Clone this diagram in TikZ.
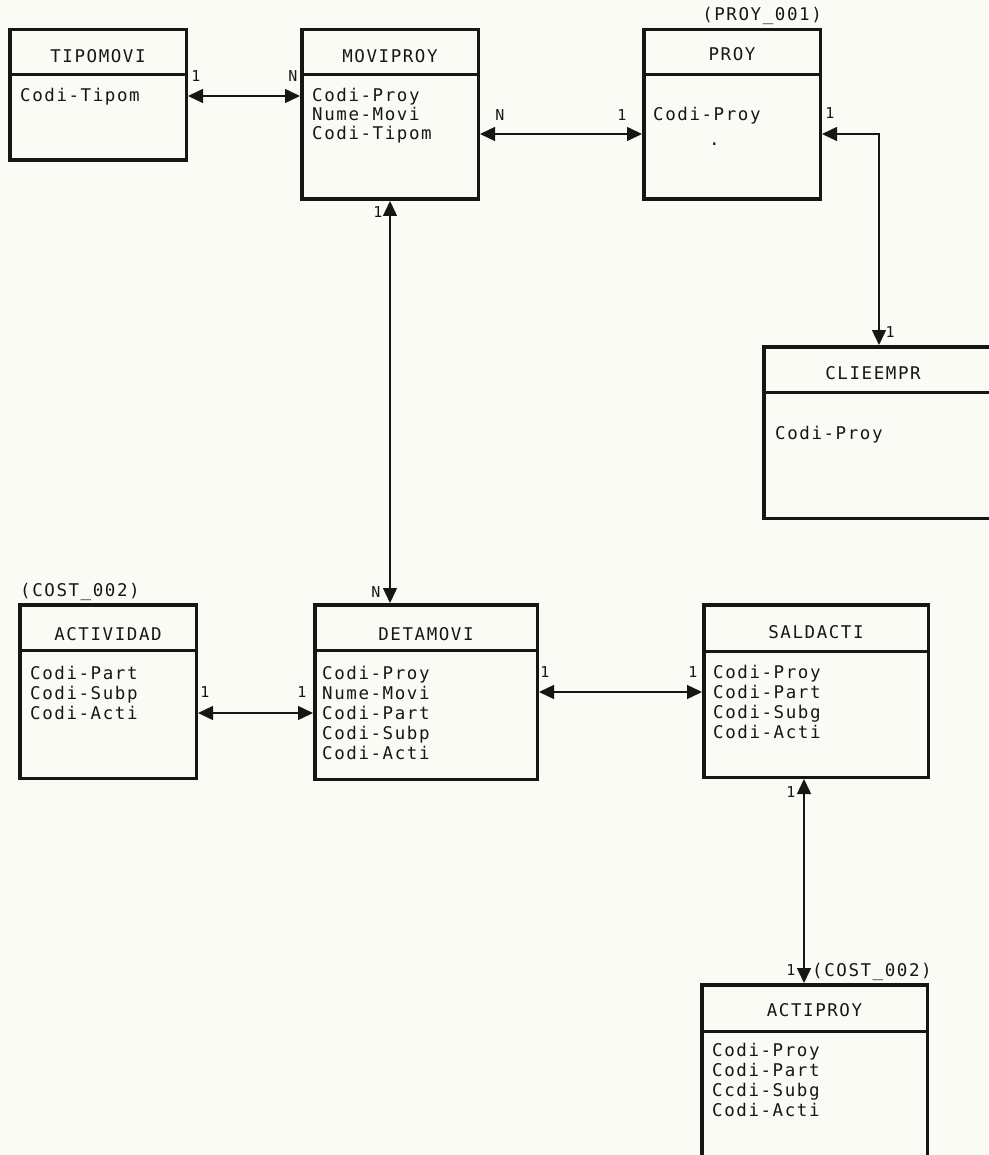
\documentclass[tikz,border=0pt]{standalone}
\usepackage{fontspec}
\newfontfamily\dmono[LetterSpace=9]{DejaVu Sans Mono}
\usetikzlibrary{arrows.meta}
\definecolor{paper}{RGB}{251,251,246}
\definecolor{ink}{RGB}{22,22,22}
\tikzset{
  entbox/.style={draw=ink, line width=3.5pt, inner sep=0pt, anchor=north west},
  hdr/.style={draw=ink, line width=3pt},
  ttl/.style={text=ink, inner sep=0pt, anchor=base, font=\dmono\fontsize{17.5}{20}\selectfont},
  fld/.style={text=ink, inner sep=0pt, anchor=base west, font=\dmono\fontsize{17.5}{20}\selectfont},
  card/.style={text=ink, inner sep=0pt, font=\dmono\fontsize{15}{17}\selectfont},
  rel/.style={draw=ink, line width=1.4pt, {Triangle[length=15pt,width=14pt]}-{Triangle[length=15pt,width=14pt]}},
}
\newcommand\entfields[5]{%
  \foreach \t [count=\i] in {#5} {\node[fld] (#1-f\i) at (#2,{#3+(\i-1)*#4}) {\t};}}
\begin{document}
\begin{tikzpicture}[x=1pt,y=-1pt]
\fill[paper] (0,0) rectangle (988,1155);
\useasboundingbox (0,0) rectangle (988,1155);

% TIPOMOVI
\node[entbox, minimum width=176.5pt, minimum height=130.5pt] (tipomovi) at (8,28) {};
\draw[hdr] (tipomovi.west |- 0,75) -- (tipomovi.east |- 0,75);
\node[ttl] (tipomovi-t) at (tipomovi.north |- 0,63) {TIPOMOVI};
\entfields{tipomovi}{20}{102}{19}{Codi-Tipom}

% MOVIPROY
\node[entbox, minimum width=176.5pt, minimum height=169.5pt] (moviproy) at (300,28) {};
\draw[hdr] (moviproy.west |- 0,75) -- (moviproy.east |- 0,75);
\node[ttl] (moviproy-t) at (moviproy.north |- 0,63) {MOVIPROY};
\entfields{moviproy}{312}{102}{19}{Codi-Proy,Nume-Movi,Codi-Tipom}

% PROY
\node[entbox, minimum width=176.5pt, minimum height=169.5pt] (proy) at (642,28) {};
\draw[hdr] (proy.west |- 0,75) -- (proy.east |- 0,75);
\node[ttl] (proy-t) at (proy.north |- 0,61) {PROY};
\node[ttl, anchor=base east] (proy-a) at (proy.north east |- 0,21) {(PROY\_001)};
\entfields{proy}{653}{121}{19}{Codi-Proy}
\node[fld] (proy-dot) at (709,146) {.};

% CLIEEMPR
\node[entbox, minimum width=226.5pt, minimum height=171.5pt] (clieempr) at (762,345) {};
\draw[hdr] (clieempr.west |- 0,392) -- (clieempr.east |- 0,392);
\node[ttl] (clieempr-t) at (873,379) {CLIEEMPR};
\entfields{clieempr}{775}{439}{20}{Codi-Proy}

% ACTIVIDAD
\node[entbox, minimum width=176.5pt, minimum height=173.5pt] (actividad) at (18,603) {};
\draw[hdr] (actividad.west |- 0,650) -- (actividad.east |- 0,650);
\node[ttl] (actividad-t) at (actividad.north |- 0,640) {ACTIVIDAD};
\node[ttl, anchor=base west] (actividad-a) at (20,596) {(COST\_002)};
\entfields{actividad}{30}{679}{20}{Codi-Part,Codi-Subp,Codi-Acti}

% DETAMOVI
\node[entbox, minimum width=222.5pt, minimum height=174.5pt] (detamovi) at (313,603) {};
\draw[hdr] (detamovi.west |- 0,650) -- (detamovi.east |- 0,650);
\node[ttl] (detamovi-t) at (detamovi.north |- 0,640) {DETAMOVI};
\entfields{detamovi}{322}{679}{20}{Codi-Proy,Nume-Movi,Codi-Part,Codi-Subp,Codi-Acti}

% SALDACTI
\node[entbox, minimum width=224.5pt, minimum height=172.5pt] (saldacti) at (702,603) {};
\draw[hdr] (saldacti.west |- 0,651) -- (saldacti.east |- 0,651);
\node[ttl] (saldacti-t) at (saldacti.north |- 0,638) {SALDACTI};
\entfields{saldacti}{713}{678}{20}{Codi-Proy,Codi-Part,Codi-Subg,Codi-Acti}

% ACTIPROY
\node[entbox, minimum width=225.5pt, minimum height=200pt] (actiproy) at (700,983) {};
\draw[hdr] (actiproy.west |- 0,1031) -- (actiproy.east |- 0,1031);
\node[ttl] (actiproy-t) at (actiproy.north |- 0,1016) {ACTIPROY};
\node[ttl, anchor=base west] (actiproy-a) at (812,976) {(COST\_002)};
\entfields{actiproy}{712}{1056}{20}{Codi-Proy,Codi-Part,Ccdi-Subg,Codi-Acti}

% connectors
\coordinate (bend) at (879,134);
\draw[rel] (tipomovi.east |- 0,96) -- (moviproy.west |- 0,96);
\draw[rel] (moviproy.east |- 0,134) -- (proy.west |- 0,134);
\draw[rel] (proy.east |- bend) -- (bend) -- (clieempr.north -| bend);
\draw[rel] (moviproy.south -| 390,0) -- (detamovi.north -| 390,0);
\draw[rel] (actividad.east |- 0,713) -- (detamovi.west |- 0,713);
\draw[rel] (detamovi.east |- 0,692) -- (saldacti.west |- 0,692);
\draw[rel] (saldacti.south -| 804,0) -- (actiproy.north -| 804,0);

% cardinalities
\node[card] (c1) at (196,76) {1};
\node[card] (c2) at (293,76) {N};
\node[card] (c3) at (500,115) {N};
\node[card] (c4) at (622,115) {1};
\node[card] (c5) at (830,113) {1};
\node[card] (c6) at (890,332) {1};
\node[card] (c7) at (378,212) {1};
\node[card] (c8) at (376,592) {N};
\node[card] (c9) at (205,692) {1};
\node[card] (c10) at (302,692) {1};
\node[card] (c11) at (545,672) {1};
\node[card] (c12) at (693,672) {1};
\node[card] (c13) at (791,792) {1};
\node[card] (c14) at (791,970) {1};
\end{tikzpicture}
\end{document}
